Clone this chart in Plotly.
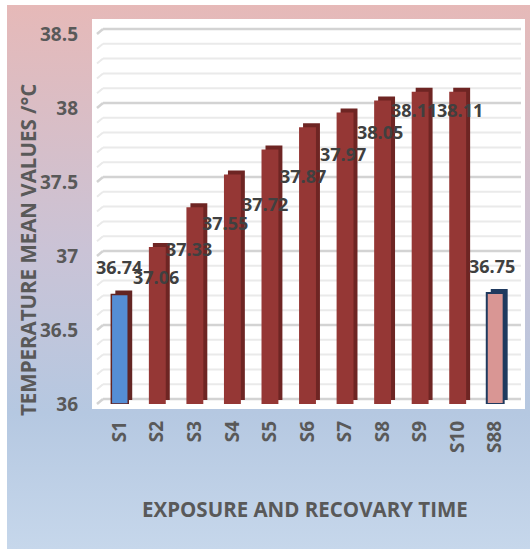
import base64
import plotly.graph_objects as go

# Sample labels and mean body temperatures (°C)
categories = ["S1", "S2", "S3", "S4", "S5", "S6", "S7", "S8", "S9", "S10", "S88"]
temperatures = [36.74, 37.06, 37.33, 37.55, 37.72, 37.87, 37.97, 38.05, 38.11, 38.11, 36.75]

y_ticks = [36, 36.5, 37, 37.5, 38, 38.5]
y_tick_labels = ["36", "36.5", "37", "37.5", "38", "38.5"]

y_title = "TEMPERATURE MEAN VALUES /°C"
x_title = "EXPOSURE AND RECOVARY TIME"

# Styling
front_colors = ["#558ED5"] + ["#953735"] * 9 + ["#D99694"]
depth_colors = ["#632523"] + ["#6E2523"] * 9 + ["#1F3A5F"]
edge_colors = ["#632523"] + ["#953735"] * 9 + ["#1F3A5F"]
edge_widths = [1.5] + [0] * 9 + [2]
# pixel nudges of the value labels (dx, dy)
label_shift = [(-1, 27), (-1, -30), (-6, -42), (-7, -48), (-5, -55), (-5, -49),
               (-2, -42), (-3, -31), (-6, -18), (2, -18), (-3, 27)]

FONT = "Open Sans"
W, H = 530, 552
ML, MR, MT, MB = 101, 16, 34, 148
Y0, Y1 = 36, 38.5
PW, PH = W - ML - MR, H - MT - MB


def px2x(px):
    return (px - ML) / PW


def py2y(py):
    return (H - MB - py) / PH


def val2y(v):
    return (v - Y0) / (Y1 - Y0)


def bold(s):
    return f"<b>{s}</b>"


bar_w = 0.45
depth_x = 4 / (PW / len(categories))
depth_y = 4 / PH * (Y1 - Y0)
lengths = [t - Y0 for t in temperatures]

fig = go.Figure()
# back faces give the columns their depth
fig.add_trace(go.Bar(
    x=categories, y=lengths, base=[Y0 + depth_y] * len(categories),
    width=bar_w, offset=-bar_w / 2 + depth_x,
    marker=dict(color=depth_colors, line=dict(width=0)),
    hoverinfo="skip", showlegend=False,
))
fig.add_trace(go.Bar(
    x=categories, y=lengths, base=[Y0] * len(categories),
    width=bar_w, offset=-bar_w / 2,
    marker=dict(color=front_colors, line=dict(color=edge_colors, width=edge_widths)),
    customdata=temperatures, hovertemplate="%{x}: %{customdata}<extra></extra>",
    showlegend=False,
))

shapes = []
# white plot panel
shapes.append(dict(type="rect", xref="paper", yref="paper", layer="below",
                   x0=px2x(92), x1=px2x(525), y0=py2y(409), y1=py2y(19),
                   fillcolor="white", line=dict(width=0)))
# back-wall gridlines with a short perspective step at the left
wall_up = 5 / PH
for i in range(26):
    t = Y0 + i * 0.1
    major = i % 5 == 0
    col = "#D3D3D3" if major else "#EAEAEA"
    lw = 2.5 if major else 2
    yb = val2y(t)
    shapes.append(dict(type="line", xref="paper", yref="paper", layer="below",
                       x0=px2x(97), x1=px2x(103), y0=yb, y1=yb + wall_up,
                       line=dict(color=col, width=lw)))
    shapes.append(dict(type="line", xref="paper", yref="paper", layer="below",
                       x0=px2x(103), x1=px2x(521), y0=yb + wall_up, y1=yb + wall_up,
                       line=dict(color=col, width=lw)))

# value labels
annotations = []
for c, v, (dx, dy) in zip(categories, temperatures, label_shift):
    annotations.append(dict(x=c, y=v, xref="x", yref="y", text=bold(f"{v:g}"),
                            showarrow=False, xshift=dx, yshift=dy,
                            font=dict(family=FONT, size=18, color="#404040")))
annotations.append(dict(x=px2x(28), y=py2y(250), xref="paper", yref="paper",
                        xanchor="center", yanchor="middle",
                        text=bold(y_title), textangle=-90, showarrow=False,
                        font=dict(family=FONT, size=20.5, color="#595959")))
annotations.append(dict(x=px2x(305), y=py2y(509), xref="paper", yref="paper",
                        xanchor="center", yanchor="middle",
                        text=bold(x_title), showarrow=False,
                        font=dict(family=FONT, size=20.5, color="#595959")))

# soft pink-to-blue backdrop
svg = ('<svg xmlns="http://www.w3.org/2000/svg" width="100" height="100" preserveAspectRatio="none">'
       '<defs><linearGradient id="g" x1="0" y1="0" x2="0" y2="1">'
       '<stop offset="0" stop-color="#E6B9B8"/>'
       '<stop offset="0.45" stop-color="#CAC3D6"/>'
       '<stop offset="0.75" stop-color="#B5C8E1"/>'
       '<stop offset="1" stop-color="#C6D7EB"/>'
       '</linearGradient></defs><rect width="100" height="100" fill="url(#g)"/></svg>')
bg_src = "data:image/svg+xml;base64," + base64.b64encode(svg.encode()).decode()

fig.update_layout(
    width=W, height=H,
    margin=dict(l=ML, r=MR, t=MT, b=MB),
    paper_bgcolor="white", plot_bgcolor="rgba(0,0,0,0)",
    barmode="overlay",
    shapes=shapes, annotations=annotations,
    images=[dict(source=bg_src, xref="paper", yref="paper",
                 x=px2x(7), y=py2y(5), sizex=(530 - 7) / PW, sizey=(549 - 5) / PH,
                 xanchor="left", yanchor="top", sizing="stretch", layer="below")],
    xaxis=dict(type="category", range=[-0.5, len(categories) - 0.5],
               tickvals=categories, ticktext=[bold(c) for c in categories],
               showgrid=False, zeroline=False, showline=False,
               tickangle=-90, ticklabelstandoff=12,
               tickfont=dict(family=FONT, size=19, color="#595959")),
    yaxis=dict(range=[Y0, Y1], tickvals=y_ticks, ticktext=[bold(t) for t in y_tick_labels],
               showgrid=False, zeroline=False, showline=False, ticklabelstandoff=22,
               tickfont=dict(family=FONT, size=19, color="#595959")),
)

fig.write_html("out.html")
